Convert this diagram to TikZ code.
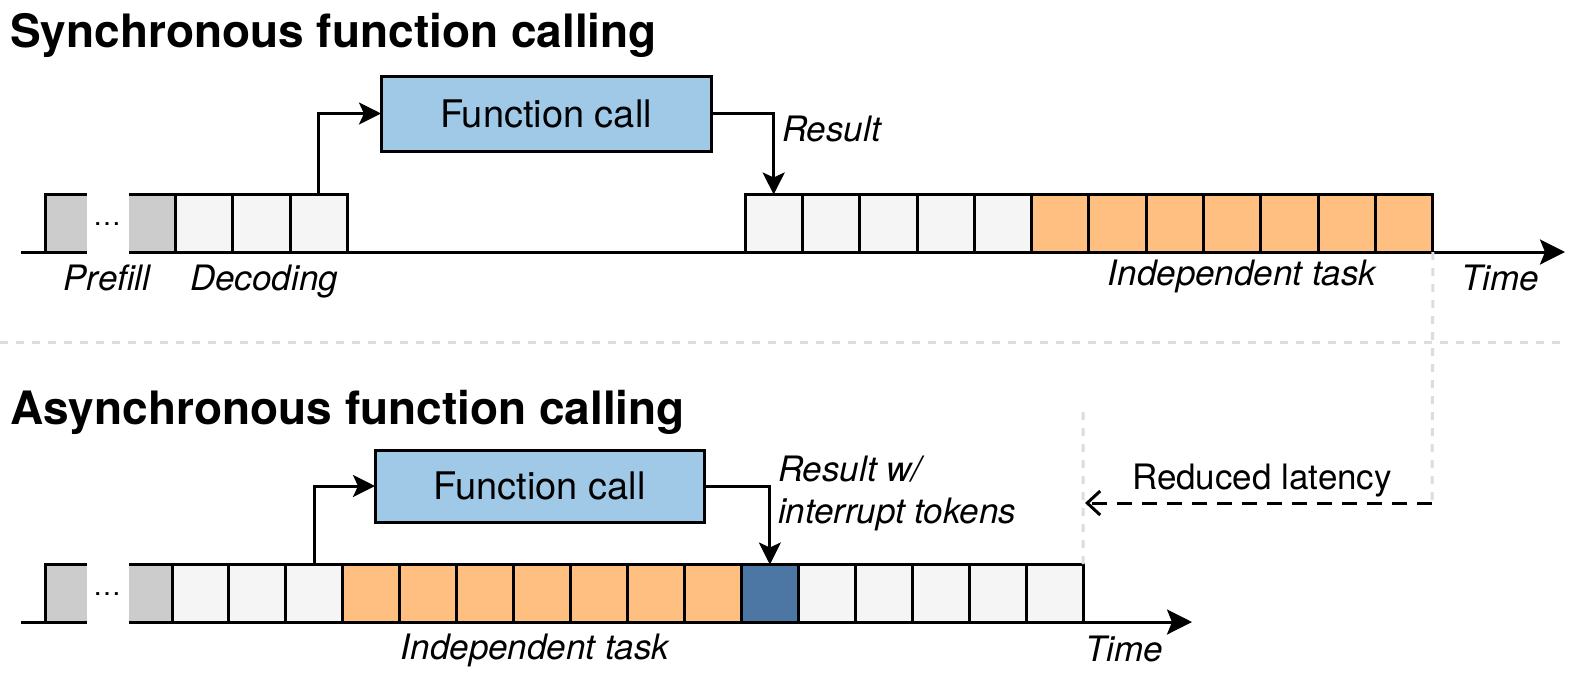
\documentclass[tikz,border=0pt]{standalone}
\usepackage{fontspec}
\setmainfont{TeX Gyre Heros}
\usetikzlibrary{arrows.meta}
\definecolor{cgray}{HTML}{CCCCCC}
\definecolor{cwhite}{HTML}{F5F5F5}
\definecolor{corange}{HTML}{FFBF80}
\definecolor{cblue}{HTML}{A0C9E8}
\definecolor{cdark}{HTML}{4C76A3}
\definecolor{cdash}{HTML}{DDDDDD}
\begin{document}
\begin{tikzpicture}[x=1pt,y=-1pt,
  lw/.style={line width=3pt},
  gfill/.style={fill=cgray, inner sep=0pt, minimum height=57.5pt, anchor=south west},
  cell/.style={draw, lw, fill=cwhite, inner sep=0pt, outer sep=0pt, minimum height=57.5pt, anchor=south west},
  ocell/.style={cell, fill=corange},
  bcell/.style={cell, fill=cdark},
  fbox/.style={draw, lw, fill=cblue, inner sep=0pt, outer sep=0pt, font=\fontsize{38}{44}\selectfont},
  lab/.style={inner sep=0pt, font=\fontsize{35}{40}\selectfont\itshape},
  rlab/.style={inner sep=0pt, font=\fontsize{35}{40}\selectfont},
  ttl/.style={inner sep=0pt, anchor=base west, font=\fontsize{46}{50}\selectfont\bfseries},
  conn/.style={lw, -{Stealth[length=22pt,width=22pt,inset=5pt]}},
  axis/.style={lw, -{Stealth[length=25pt,width=25pt,inset=5pt]}},
  gdash/.style={draw=cdash, line width=3pt, dash pattern=on 8pt off 8pt},
  dots/.style={inner sep=0pt, font=\fontsize{28}{30}\selectfont}
]
\useasboundingbox[fill=white] (0,0) rectangle (1577,673);

% titles
\node[ttl] (t1) at (10,47) {Synchronous function calling};
\node[ttl] (t2) at (10,424) {Asynchronous function calling};

% separator
\coordinate (sepL) at (0,342);
\coordinate (sepR) at (1565,342);
\draw[gdash] (sepL) -- (sepR);

% ---------- top row ----------
\node[gfill, minimum width=42pt] (pa1) at (45,252) {};
\node[gfill, minimum width=46pt] (pa2) at (129,252) {};
\foreach \i in {1,...,3}
  \node[cell, minimum width=57.5pt] (d\i) at ({175+(\i-1)*57.5},252) {};
\foreach \i in {1,...,5}
  \node[cell, minimum width=57.33pt] (r\i) at ({745+(\i-1)*57.33},252) {};
\foreach \i in {1,...,7}
  \node[ocell, minimum width=57.33pt] (o\i) at ({745+(\i+4)*57.33},252) {};
\draw[lw] (pa1.north east) -- (pa1.north west) -- (pa1.south west);
\draw[lw] (pa2.north west) -- (pa2.north east);
\node[dots] (dt1) at (107,224) {\ldots};
\coordinate (ax1a) at (21,252);
\coordinate (ax1b) at (1565,252);
\draw[lw] (ax1a) -- (pa1.south east);
\draw[axis] (pa2.south west) -- (ax1b);

\node[fbox, minimum width=330pt, minimum height=75pt] (fc1) at (546,113.5) {Function call};
\draw[conn] (d3.north) |- (fc1.west);
\draw[conn] (fc1.east) -| (r1.north);
\node[lab, anchor=base west] (lres) at (782,141) {Result};

\node[lab, anchor=base] (lpre) at (107,290) {Prefill};
\node[lab, anchor=base] (ldec) at (264,290) {Decoding};
\node[lab, anchor=base] (lind1) at (1242,285) {Independent task};
\node[lab, anchor=base] (ltime1) at (1500,290) {Time};

% ---------- bottom row ----------
\node[gfill, minimum width=42pt] (pb1) at (45,622) {};
\node[gfill, minimum width=43pt] (pb2) at (129,622) {};
\foreach \i in {1,...,3}
  \node[cell, minimum width=56.94pt] (bd\i) at ({172+(\i-1)*56.94},622) {};
\foreach \i in {1,...,7}
  \node[ocell, minimum width=56.94pt] (bo\i) at ({172+(\i+2)*56.94},622) {};
\node[bcell, minimum width=56.94pt] (bb) at ({172+10*56.94},622) {};
\foreach \i in {1,...,5}
  \node[cell, minimum width=56.94pt] (bw\i) at ({172+(\i+10)*56.94},622) {};
\draw[lw] (pb1.north east) -- (pb1.north west) -- (pb1.south west);
\draw[lw] (pb2.north west) -- (pb2.north east);
\node[dots] (dt2) at (107,594) {\ldots};
\coordinate (ax2a) at (21,622);
\coordinate (ax2b) at (1192,622);
\draw[lw] (ax2a) -- (pb1.south east);
\draw[axis] (pb2.south west) -- (ax2b);

\node[fbox, minimum width=329pt, minimum height=72pt] (fc2) at (539.5,486) {Function call};
\draw[conn] (bd3.north) |- (fc2.west);
\draw[conn] (fc2.east) -| (bb.north);
\node[lab, anchor=base west] (lres2a) at (778,481) {Result w/};
\node[lab, anchor=base west] (lres2b) at (778,523) {interrupt tokens};

\node[lab, anchor=base] (lind2) at (535,659) {Independent task};
\node[lab, anchor=base] (ltime2) at (1124,661) {Time};

% ---------- reduced latency ----------
\coordinate (latS) at (1432,503);
\coordinate (latE) at (1085,503);
\coordinate (vtop) at (1083,412);
\draw[gdash] (o7.south east) -- (latS);
\draw[gdash] (vtop) -- (bw5.north east);
\draw[lw, dash pattern=on 15pt off 10pt, -{Straight Barb[length=13pt,width=24pt]}] (latS) -- (latE);
\node[rlab, anchor=base] (lred) at (1262,489) {Reduced latency};
\end{tikzpicture}
\end{document}
